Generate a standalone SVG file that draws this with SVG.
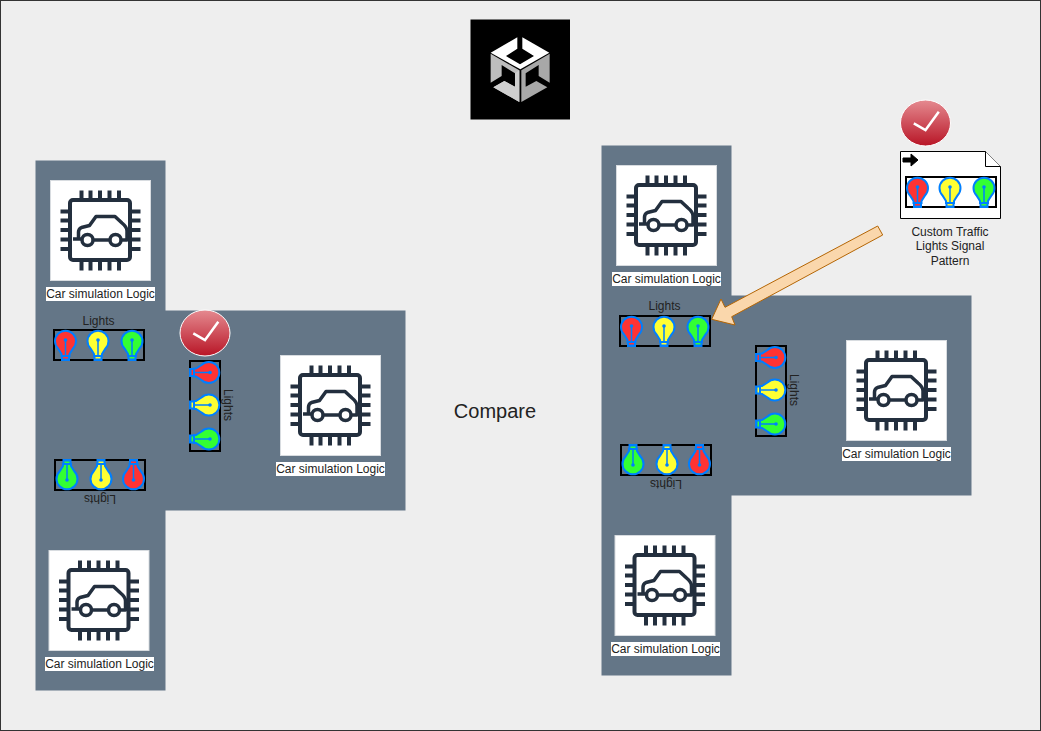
<svg xmlns="http://www.w3.org/2000/svg" xmlns:xlink="http://www.w3.org/1999/xlink" width="1041" height="731" viewBox="0 0 1041 731">
<style>
text{font-family:"Liberation Sans",Arial,sans-serif;font-size:12px;fill:#222;text-anchor:middle}
.panel{fill:#647687}
.card{fill:#fff;stroke:#d8dce0;stroke-width:1}
.lbl{fill:#fff}
.box{fill:none;stroke:#000;stroke-width:2}
.chip{fill:none;stroke:#232f3e;stroke-width:4;stroke-linejoin:round;stroke-linecap:butt}
.car{fill:none;stroke:#232f3e;stroke-width:3.500;stroke-linejoin:round}
</style>
<defs>
<linearGradient id="red" x1="0" y1="0" x2="0" y2="1"><stop offset="0" stop-color="#e58a90"/><stop offset="1" stop-color="#b81526"/></linearGradient>
<g id="chipicon">
<rect class="card" x="-0.500" y="-0.500" width="100" height="100"/>
<rect class="chip" x="19" y="19" width="60" height="60" rx="3"/>
<path class="chip" d="M30.500 9.500V19M39.500 9.500V19M49 9.500V19M58.500 9.500V19M68 9.500V19M30.500 79V89.500M39.500 79V89.500M49 79V89.500M58.500 79V89.500M68 79V89.500M9.500 30.500H19M9.500 39.500H19M9.500 49H19M9.500 58.500H19M9.500 68H19M79 30.500H89.500M79 39.500H89.500M79 49H89.500M79 58.500H89.500M79 68H89.500"/>
<path class="car" d="M22 58H30.500M42.500 59H58.500M70.500 59H76V50Q76 46 71 42L64 35.500H45L38.500 44.500L30.500 46.500Q27.500 48 27.500 51V58"/>
<circle class="car" cx="36.500" cy="59" r="5.500"/>
<circle class="car" cx="64.500" cy="59" r="5.500"/>
</g>
<g id="bulb">
<path d="M-4 15V13L-7.500 7.500A10.500 10.500 0 1 1 7.500 7.500L4 13V15Z" fill="inherit" stroke="#007fff" stroke-width="2"/>
<rect x="-4.500" y="14" width="9" height="6" fill="#007fff"/>
<rect x="-2.500" y="16" width="5" height="1.500" fill="inherit"/>
<path d="M0 0V14" stroke="#007fff" stroke-width="1.500" fill="none"/>
<circle cx="0" cy="-1" r="1.800" fill="#007fff"/>
</g>
<g id="lights">
<rect class="box" x="0" y="0" width="90" height="30"/>
<use xlink:href="#bulb" x="11.500" y="11" fill="#ff3333"/>
<use xlink:href="#bulb" x="44" y="11" fill="#ffff33"/>
<use xlink:href="#bulb" x="78" y="11" fill="#33ff33"/>
</g>
<g id="check">
<ellipse rx="25" ry="23" fill="url(#red)" stroke="#fff" stroke-width="1"/>
<path d="M-11.700 0.300L0 7L13.300 -11.300" fill="none" stroke="#fff" stroke-width="2.500"/>
</g>
</defs>
<rect x="0.500" y="0.500" width="1040" height="730" fill="#eeeeee" stroke="#333"/>

<g id="intersection-left">
<path class="panel" d="M35.500 160.500H165.500V310.500H405.500V510.500H165.500V690.500H35.500Z"/>
</g>
<g id="intersection-right">
<path class="panel" d="M601.500 145.500H731.500V295.500H971.500V495.500H731.500V675.500H601.500Z"/>
</g>

<g id="unity-logo">
<rect x="470.500" y="19.500" width="99.500" height="100" fill="#000"/>
<g transform="translate(460 10) scale(0.3333)">
<path fill="#fff" d="M92 128L172 82V116L138 138L180 163L222 138L187 116V82L268 128L181 178Z"/>
<path fill="#bdbdbd" d="M92 131L178 181V276L100 232L133 213L165 230V190L125 165V198L92 218Z"/>
<path fill="#a8a8a8" d="M269 131L184 181V276L262 232L229 213L197 230V190L236 165V198L269 218Z"/>
<path fill="#d0d0d0" d="M100 232L133 213L165 230V190L178 181V276Z"/>
</g>
</g>

<g id="car-logic-1">
<use xlink:href="#chipicon" x="51" y="181"/>
<rect class="lbl" x="46" y="287" width="109" height="14"/>
<text x="100.500" y="298">Car simulation Logic</text>
</g>
<g id="car-logic-2">
<use xlink:href="#chipicon" x="281" y="356"/>
<rect class="lbl" x="276" y="462" width="109" height="14"/>
<text x="330.500" y="473">Car simulation Logic</text>
</g>
<g id="car-logic-3">
<use xlink:href="#chipicon" x="49.500" y="551"/>
<rect class="lbl" x="45" y="657" width="109" height="14"/>
<text x="99.500" y="668">Car simulation Logic</text>
</g>
<g id="car-logic-4">
<use xlink:href="#chipicon" x="617" y="166"/>
<rect class="lbl" x="612" y="272" width="109" height="14"/>
<text x="666.500" y="283">Car simulation Logic</text>
</g>
<g id="car-logic-5">
<use xlink:href="#chipicon" x="847" y="341"/>
<rect class="lbl" x="842" y="447" width="109" height="14"/>
<text x="896.500" y="458">Car simulation Logic</text>
</g>
<g id="car-logic-6">
<use xlink:href="#chipicon" x="615.500" y="536"/>
<rect class="lbl" x="611" y="642" width="109" height="14"/>
<text x="665.500" y="653">Car simulation Logic</text>
</g>

<g id="lights-left-top">
<text x="98.500" y="325">Lights</text>
<use xlink:href="#lights" x="54" y="330"/>
</g>
<g id="lights-left-right">
<use xlink:href="#lights" transform="translate(220 361) rotate(90)"/>
<text transform="translate(224 405) rotate(90)">Lights</text>
</g>
<g id="lights-left-bottom">
<use xlink:href="#lights" transform="translate(145 490) rotate(180)"/>
<text transform="translate(100 495) rotate(180)">Lights</text>
</g>
<g id="lights-right-top">
<text x="664.500" y="310">Lights</text>
<use xlink:href="#lights" x="620" y="316"/>
</g>
<g id="lights-right-right">
<use xlink:href="#lights" transform="translate(786 346) rotate(90)"/>
<text transform="translate(790 390) rotate(90)">Lights</text>
</g>
<g id="lights-right-bottom">
<use xlink:href="#lights" transform="translate(711 475) rotate(180)"/>
<text transform="translate(666 480) rotate(180)">Lights</text>
</g>

<g id="check-left"><use xlink:href="#check" x="205" y="333"/></g>
<g id="check-right"><use xlink:href="#check" x="925.500" y="123"/></g>

<g id="compare"><text x="495" y="418" style="font-size:20px">Compare</text></g>

<g id="custom-pattern">
<path d="M900.500 151.500H985.500L1000.500 166.500V218.500H900.500Z" fill="#fff" stroke="#000"/>
<path d="M985.500 151.500V166.500H1000.500" fill="#fff" stroke="#000"/>
<path d="M903 158H911V154L918 160L911 166V162H903Z" fill="#000" stroke="#000"/>
<use xlink:href="#lights" x="906" y="177"/>
<text x="950" y="236">Custom Traffic</text>
<text x="950" y="250">Lights Signal</text>
<text x="950" y="265">Pattern</text>
</g>

<g id="connectors">
<path d="M877.700 226L882.700 235L731.700 316.700L735 325L711.700 319.300L721 299L725 307.300Z" fill="#fad7ac" stroke="#b46504" stroke-width="1"/>
</g>
</svg>
